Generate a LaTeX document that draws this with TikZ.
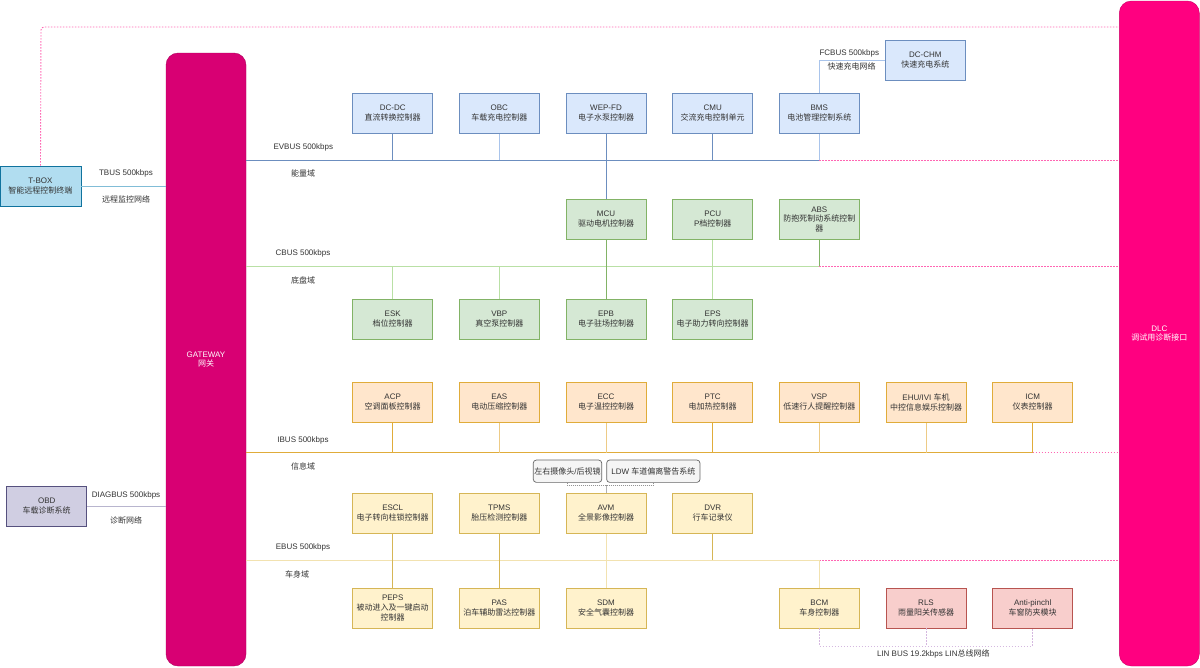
\documentclass[tikz,border=0pt]{standalone}
\usepackage{fontspec}
\setmainfont{Liberation Sans}
\newfontfamily\cjk{Noto Sans CJK SC}
\newcommand\z[1]{{\cjk #1}}
\newcommand\fs{\fontsize{8}{9.7}\selectfont}
\definecolor{txt}{HTML}{333333}
\definecolor{eFill}{HTML}{DAE8FC}
\definecolor{eLine}{HTML}{6C8EBF}
\definecolor{eLight}{HTML}{A9C4EB}
\definecolor{cFill}{HTML}{D5E8D4}
\definecolor{cLine}{HTML}{82B366}
\definecolor{cLight}{HTML}{B9E0A5}
\definecolor{iFill}{HTML}{FFE6CC}
\definecolor{iLine}{HTML}{E0AC3A}
\definecolor{iLight}{HTML}{EDCB86}
\definecolor{bFill}{HTML}{FFF2CC}
\definecolor{bLine}{HTML}{D6B656}
\definecolor{bLight}{HTML}{F2E2B0}
\definecolor{rFill}{HTML}{F8CECC}
\definecolor{rLine}{HTML}{B85450}
\definecolor{tFill}{HTML}{B1DDF0}
\definecolor{tLine}{HTML}{10739E}
\definecolor{oFill}{HTML}{D0CEE2}
\definecolor{oLine}{HTML}{56517E}
\definecolor{gwFill}{HTML}{D80073}
\definecolor{dlcFill}{HTML}{FF0080}
\definecolor{pinkDot}{HTML}{FF66B3}
\definecolor{gFill}{HTML}{F5F5F5}
\definecolor{gLine}{HTML}{666666}
\definecolor{linDot}{HTML}{D5B8E0}
\tikzset{
  unitbox/.style={draw, line width=0.9pt, minimum width=80pt, minimum height=40pt, inner sep=1pt, align=center, text=txt, font=\fs},
  ebox/.style={unitbox, fill=eFill, draw=eLine},
  cbox/.style={unitbox, fill=cFill, draw=cLine},
  ibox/.style={unitbox, fill=iFill, draw=iLine},
  bodybox/.style={unitbox, fill=bFill, draw=bLine},
  rbox/.style={unitbox, fill=rFill, draw=rLine},
  grbox/.style={draw=gLine, fill=gFill, rounded corners=3pt, line width=0.7pt, minimum height=22.3pt, inner sep=1pt, text=txt, font=\fs},
  bigbar/.style={rounded corners=12pt, minimum width=80pt, text=white, align=center, font=\fs},
  lab/.style={text=txt, font=\fs, inner sep=0pt},
  eline/.style={draw=eLine, line width=0.9pt},
  elight/.style={draw=eLight, line width=0.9pt},
  cline/.style={draw=cLine, line width=0.9pt},
  clight/.style={draw=cLight, line width=0.9pt},
  iline/.style={draw=iLine, line width=0.9pt},
  ilight/.style={draw=iLight, line width=0.9pt},
  bline/.style={draw=bLine, line width=0.9pt},
  blight/.style={draw=bLight, line width=0.9pt},
  pinkline/.style={draw=pinkDot, line width=0.9pt, dash pattern=on 1.5pt off 1.5pt},
  graydot/.style={draw=gLine!70, line width=0.7pt, dash pattern=on 1pt off 1pt},
  grayline/.style={draw=gLine!50, line width=0.9pt},
  lindot/.style={draw=linDot, line width=0.8pt, dash pattern=on 1.5pt off 1.5pt},
}
\begin{document}
\begin{tikzpicture}[x=1pt,y=-1pt]
\useasboundingbox (0,0) rectangle (1200,667);
\fill[white] (0,0) rectangle (1200,667);

% big bars
\node[bigbar, fill=gwFill, draw=gwFill!80!black, minimum height=613pt] (gw) at (206,359.5) {GATEWAY\\\z{网关}};
\node[bigbar, fill=dlcFill, draw=dlcFill!80!black, minimum height=665pt] (dlc) at (1159.3,333.5) {DLC\\\z{调试用诊断接口}};

% left side
\node[unitbox, fill=tFill, draw=tLine, minimum width=81pt] (tbox) at (40.5,186) {T-BOX\\\z{智能远程控制终端}};
\node[unitbox, fill=oFill, draw=oLine] (obd) at (46.7,506.3) {OBD\\\z{车载诊断系统}};

% energy domain
\node[ebox] (dcdc) at (392.7,113.3) {DC-DC\\\z{直流转换控制器}};
\node[ebox] (obc) at (499.3,113.3) {OBC\\\z{车载充电控制器}};
\node[ebox] (wep) at (606,113.3) {WEP-FD\\\z{电子水泵控制器}};
\node[ebox] (cmu) at (712.7,113.3) {CMU\\\z{交流充电控制单元}};
\node[ebox] (bms) at (819.3,113.3) {BMS\\\z{电池管理控制系统}};
\node[ebox] (dcchm) at (925.3,60) {DC-CHM\\\z{快速充电系统}};

% chassis domain
\node[cbox] (mcu) at (606,219.3) {MCU\\\z{驱动电机控制器}};
\node[cbox] (pcu) at (712.7,219.3) {PCU\\P\z{档控制器}};
\node[cbox] (abs) at (819.3,219.3) {ABS\\\z{防抱死制动系统控制}\\\z{器}};
\node[cbox] (esk) at (392.7,319) {ESK\\\z{档位控制器}};
\node[cbox] (vbp) at (499.3,319) {VBP\\\z{真空泵控制器}};
\node[cbox] (epb) at (606,319) {EPB\\\z{电子驻场控制器}};
\node[cbox] (eps) at (712.7,319) {EPS\\\z{电子助力转向控制器}};

% info domain
\node[ibox] (acp) at (392.7,402.3) {ACP\\\z{空调面板控制器}};
\node[ibox] (eas) at (499.3,402.3) {EAS\\\z{电动压缩控制器}};
\node[ibox] (ecc) at (606,402.3) {ECC\\\z{电子温控控制器}};
\node[ibox] (ptc) at (712.7,402.3) {PTC\\\z{电加热控制器}};
\node[ibox] (vsp) at (819.3,402.3) {VSP\\\z{低速行人提醒控制器}};
\node[ibox] (ehu) at (926,402.3) {EHU/IVI \z{车机}\\\z{中控信息娱乐控制器}};
\node[ibox] (icm) at (1032.7,402.3) {ICM\\\z{仪表控制器}};
\node[grbox, minimum width=68.4pt] (cam) at (567.5,471.2) {\z{左右摄像头}/\z{后视镜}};
\node[grbox, minimum width=93.3pt] (ldw) at (653.3,471.2) {LDW \z{车道偏离警告系统}};

% body domain
\node[bodybox] (escl) at (392.7,513.3) {ESCL\\\z{电子转向柱锁控制器}};
\node[bodybox] (tpms) at (499.3,513.3) {TPMS\\\z{胎压检测控制器}};
\node[bodybox] (avm) at (606,513.3) {AVM\\\z{全景影像控制器}};
\node[bodybox] (dvr) at (712.7,513.3) {DVR\\\z{行车记录仪}};
\node[bodybox] (peps) at (392.7,608) {PEPS\\\z{被动进入及一键启动}\\\z{控制器}};
\node[bodybox] (pas) at (499.3,608) {PAS\\\z{泊车辅助雷达控制器}};
\node[bodybox] (sdm) at (606,608) {SDM\\\z{安全气囊控制器}};
\node[bodybox] (bcm) at (819.3,608) {BCM\\\z{车身控制器}};
\node[rbox] (rls) at (926,608) {RLS\\\z{雨量阳关传感器}};
\node[rbox] (anti) at (1032.7,608) {Anti-pinchl\\\z{车窗防夹模块}};

% bus coordinates
\coordinate (evy) at (0,160);
\coordinate (cby) at (0,266);
\coordinate (iby) at (0,452.7);
\coordinate (eby) at (0,560);
\coordinate (liny) at (0,646);
\coordinate (topy) at (41,27);
\coordinate (camj) at (606,485.7);

% T-BOX / OBD links
\draw[draw=tFill!70!tLine, line width=0.9pt] (tbox.east) -- (gw.west |- tbox.east);
\draw[draw=oFill!80!oLine, line width=0.9pt] (obd.east) -- (gw.west |- obd.east);
\draw[pinkline, rounded corners=3pt] (tbox.north) -- (topy) -- (dlc.west |- topy);

% EVBUS
\draw[eline] (gw.east |- evy) -- (bms.south |- evy);
\draw[pinkline] (bms.south |- evy) -- (dlc.west |- evy);
\draw[eline] (dcdc.south) -- (dcdc.south |- evy);
\draw[elight] (obc.south) -- (obc.south |- evy);
\draw[eline] (wep.south) -- (mcu.north);
\draw[eline] (cmu.south) -- (cmu.south |- evy);
\draw[elight] (bms.south) -- (bms.south |- evy);
\draw[elight] (bms.north) |- (dcchm.west);

% CBUS
\draw[clight] (gw.east |- cby) -- (abs.south |- cby);
\draw[pinkline] (abs.south |- cby) -- (dlc.west |- cby);
\draw[cline] (abs.south) -- (abs.south |- cby);
\draw[cline] (mcu.south) -- (epb.north);
\draw[clight] (pcu.south) -- (eps.north);
\draw[clight] (esk.north) -- (esk.north |- cby);
\draw[clight] (vbp.north) -- (vbp.north |- cby);

% IBUS
\draw[iline] (gw.east |- iby) -- (icm.south |- iby);
\draw[pinkline] (icm.south |- iby) -- (dlc.west |- iby);
\draw[iline] (acp.south) -- (acp.south |- iby);
\draw[ilight] (eas.south) -- (eas.south |- iby);
\draw[ilight] (ecc.south) -- (ecc.south |- iby);
\draw[iline] (ptc.south) -- (ptc.south |- iby);
\draw[ilight] (vsp.south) -- (vsp.south |- iby);
\draw[ilight] (ehu.south) -- (ehu.south |- iby);
\draw[iline] (icm.south) -- (icm.south |- iby);
\draw[graydot] (cam.south) |- (camj);
\draw[graydot] (ldw.south) |- (camj);
\draw[grayline] (camj) -- (avm.north);

% EBUS
\draw[blight] (gw.east |- eby) -- (bcm.north |- eby);
\draw[pinkline] (bcm.north |- eby) -- (dlc.west |- eby);
\draw[bline] (escl.south) -- (peps.north);
\draw[bline] (tpms.south) -- (pas.north);
\draw[blight] (avm.south) -- (sdm.north);
\draw[bline] (dvr.south) -- (dvr.south |- eby);
\draw[blight] (bcm.north) -- (bcm.north |- eby);

% LIN bus
\draw[lindot] (bcm.south) -- (bcm.south |- liny) -- (anti.south |- liny) -- (anti.south);
\draw[lindot] (rls.south) -- (rls.south |- liny);

% labels
\node[lab] (l1) at (126,173.5) {TBUS 500kbps};
\node[lab] (l2) at (126,199.5) {\z{远程监控网络}};
\node[lab] (l3) at (126,495) {DIAGBUS 500kbps};
\node[lab] (l4) at (126,520.7) {\z{诊断网络}};
\node[lab] (l5) at (303.3,147) {EVBUS 500kbps};
\node[lab] (l6) at (303,173.5) {\z{能量域}};
\node[lab] (l7) at (303,253) {CBUS 500kbps};
\node[lab] (l8) at (303,280) {\z{底盘域}};
\node[lab] (l9) at (303,440) {IBUS 500kbps};
\node[lab] (l10) at (303,466.7) {\z{信息域}};
\node[lab] (l11) at (303,547) {EBUS 500kbps};
\node[lab] (l12) at (297,574) {\z{车身域}};
\node[lab] (l13) at (849.3,53.5) {FCBUS 500kbps};
\node[lab] (l14) at (851.7,66.7) {\z{快速充电网络}};
\node[lab] (l15) at (933.3,654) {LIN BUS 19.2kbps LIN\z{总线网络}};
\end{tikzpicture}
\end{document}
